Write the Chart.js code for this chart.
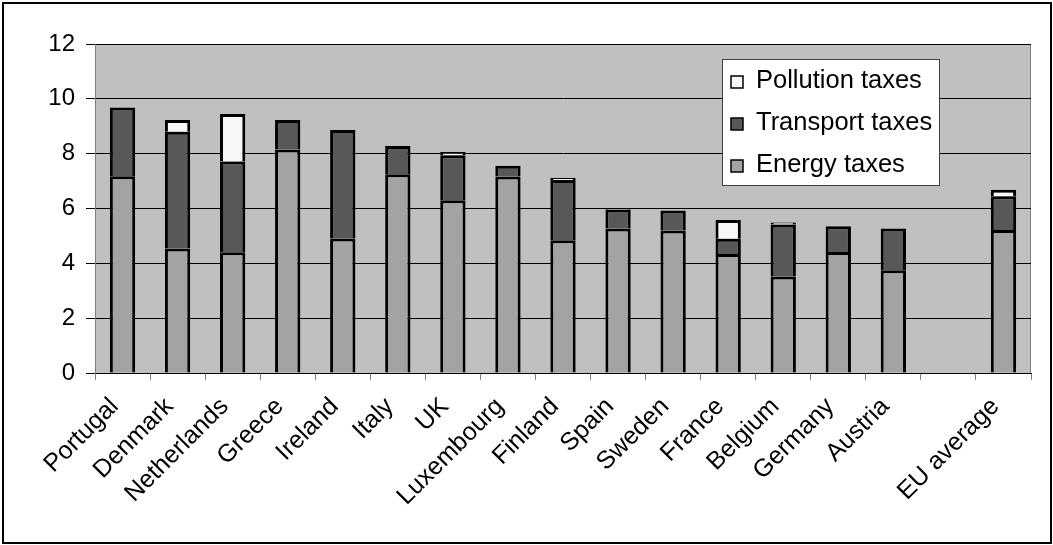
<!DOCTYPE html>
<html>
<head>
<meta charset="utf-8">
<script src="https://cdn.jsdelivr.net/npm/chart.js@4.4.1/dist/chart.umd.min.js"></script>
<style>
  html, body { margin: 0; padding: 0; background: #ffffff; }
  #wrap { position: relative; width: 1053px; height: 545px; }
  canvas { display: block; }
</style>
</head>
<body>
<div id="wrap"><canvas id="c" width="1053" height="545"></canvas></div>
<script>
// Environmental tax revenue by country, % of total taxation
const countries = ['Portugal', 'Denmark', 'Netherlands', 'Greece', 'Ireland', 'Italy', 'UK',
  'Luxembourg', 'Finland', 'Spain', 'Sweden', 'France', 'Belgium', 'Germany', 'Austria', '', 'EU average'];
const energyTaxes    = [7.18, 4.54, 4.40, 8.15, 4.91, 7.25, 6.30, 7.17, 4.84, 5.27, 5.20, 4.34, 3.52, 4.41, 3.75, null, 5.22];
const transportTaxes = [2.50, 4.26, 3.31, 1.08, 3.95, 1.03, 1.64, 0.39, 2.20, 0.69, 0.73, 0.56, 1.90, 0.94, 1.52, null, 1.23];
const pollutionTaxes = [0,    0.43, 1.74, 0,    0,    0,    0.12, 0,    0.07, 0.05, 0,    0.68, 0.07, 0,    0,    null, 0.23];
const yTicks = [0, 2, 4, 6, 8, 10, 12];

const FONT = 'Liberation Sans, Arial, sans-serif';

// Plot background, outer frame and the boxed legend inside the plot
const framePlugin = {
  id: 'frame',
  beforeDraw(chart) {
    const { ctx, chartArea: a } = chart;
    ctx.save();
    ctx.fillStyle = '#c0c0c0';
    ctx.fillRect(a.left, a.top, a.right - a.left, a.bottom - a.top);
    ctx.strokeStyle = '#808080';
    ctx.lineWidth = 1;
    ctx.strokeRect(a.left + 0.5, a.top + 0.5, a.right - a.left - 1, a.bottom - a.top);
    ctx.restore();
  },
  afterDraw(chart) {
    const { ctx } = chart;
    ctx.save();
    ctx.strokeStyle = '#000000';
    ctx.lineWidth = 2;
    ctx.strokeRect(3, 3, chart.width - 5, chart.height - 5);

    // legend box
    const bx = 722, by = 59, bw = 217, bh = 126;
    ctx.fillStyle = '#ffffff';
    ctx.fillRect(bx, by, bw, bh);
    ctx.strokeStyle = '#404040';
    ctx.lineWidth = 1;
    ctx.strokeRect(bx + 0.5, by + 0.5, bw, bh);
    const items = chart.data.datasets.slice().reverse();
    ctx.font = '25.5px ' + FONT;
    ctx.textBaseline = 'middle';
    ctx.textAlign = 'left';
    items.forEach((ds, i) => {
      const cy = by + 22 + i * 42;
      ctx.fillStyle = ds.backgroundColor;
      ctx.fillRect(731, cy - 5, 12, 12);
      ctx.strokeStyle = '#000000';
      ctx.lineWidth = 1.5;
      ctx.strokeRect(731, cy - 5, 12, 12);
      ctx.fillStyle = '#000000';
      ctx.fillText(ds.label, 756, cy);
    });
    ctx.restore();
  }
};

const barCommon = { borderColor: '#000000', borderWidth: 3, barPercentage: 0.46, categoryPercentage: 1 };

new Chart(document.getElementById('c'), {
  type: 'bar',
  data: {
    labels: countries,
    datasets: [
      Object.assign({ label: 'Energy taxes', data: energyTaxes, backgroundColor: '#a3a3a3' }, barCommon),
      Object.assign({ label: 'Transport taxes', data: transportTaxes, backgroundColor: '#585858' }, barCommon),
      Object.assign({ label: 'Pollution taxes', data: pollutionTaxes, backgroundColor: '#f8f8f8' }, barCommon)
    ]
  },
  options: {
    responsive: false,
    animation: false,
    layout: { padding: { top: 44, right: 22, left: 0, bottom: 0 } },
    plugins: { legend: { display: false }, tooltip: { enabled: false } },
    scales: {
      x: {
        stacked: true,
        afterFit(scale) { scale.height = 172; },
        grid: { drawOnChartArea: false, drawTicks: true, tickLength: 7, tickColor: '#808080', offset: true },
        border: { color: '#000000', width: 1 },
        ticks: {
          autoSkip: false, minRotation: 45, maxRotation: 45, padding: 12, labelOffset: -8,
          color: '#000000', font: { family: FONT, size: 25 }
        }
      },
      y: {
        stacked: true,
        min: 0, max: 12,
        afterFit(scale) { scale.width = 95; },
        afterBuildTicks(scale) { scale.ticks = yTicks.map(v => ({ value: v })); },
        grid: { color: '#000000', lineWidth: 1, tickLength: 9, tickColor: '#000000', drawTicks: true },
        border: { color: '#808080', width: 1 },
        ticks: { padding: 11, color: '#000000', font: { family: FONT, size: 24 } }
      }
    }
  },
  plugins: [framePlugin]
});
</script>
</body>
</html>
